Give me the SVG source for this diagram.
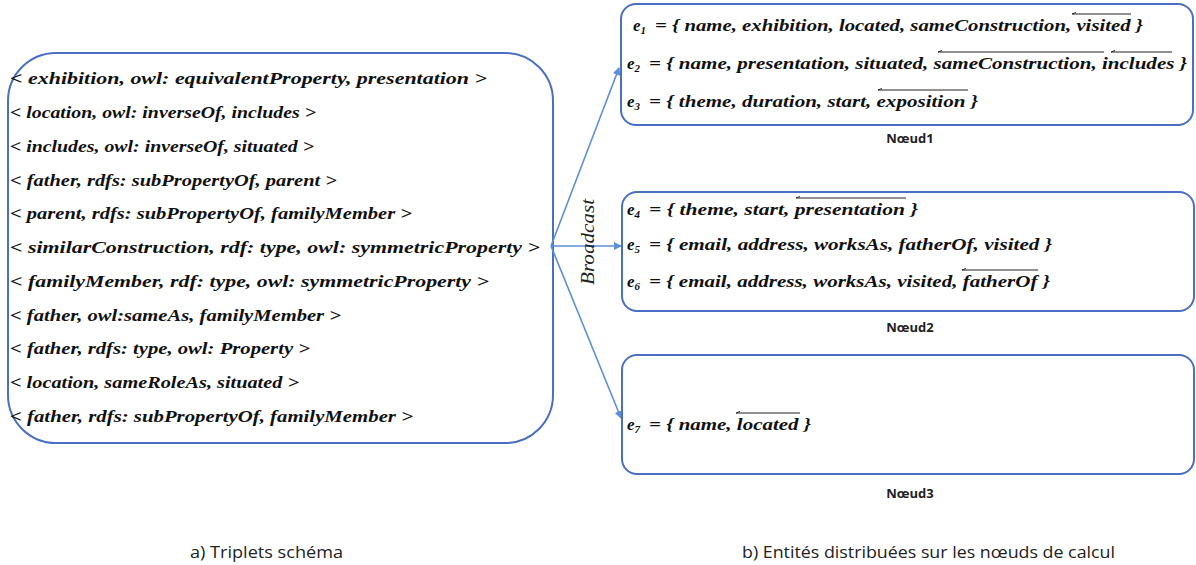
<svg xmlns="http://www.w3.org/2000/svg" width="1196" height="565" viewBox="0 0 1196 565">
<defs>
<style>
.box{fill:none;stroke:#4a6fc4;stroke-width:2}
.m{font-family:"Liberation Serif","DejaVu Serif",serif;font-style:italic;font-weight:bold;font-size:17px;fill:#111}
.sub{font-size:11px}
.lbl{font-family:"Open Sans","Liberation Sans",sans-serif;font-weight:bold;font-size:13px;fill:#222}
.cap{font-family:"Open Sans","Liberation Sans",sans-serif;font-size:16px;fill:#222}
.bc{font-family:"Liberation Serif",serif;font-style:italic;font-size:19px;fill:#222}
.ov{stroke:#222;stroke-width:1;fill:none}
.conn{stroke:#5b8fd6;stroke-width:1.6;fill:none}
</style>
<marker id="ah" markerWidth="8" markerHeight="8" refX="7" refY="4" orient="auto" markerUnits="userSpaceOnUse">
<path d="M0,0 L8,4 L0,8 Z" fill="#5b8fd6"/>
</marker>
</defs>

<g id="triplets">
<rect class="box" x="8" y="53" width="545" height="390" rx="48" ry="48"/>
<text class="m" x="10" y="84" textLength="477" lengthAdjust="spacingAndGlyphs">&lt; exhibition, owl: equivalentProperty, presentation &gt;</text>
<text class="m" x="10" y="118" textLength="306" lengthAdjust="spacingAndGlyphs">&lt; location, owl: inverseOf, includes &gt;</text>
<text class="m" x="10" y="152" textLength="304" lengthAdjust="spacingAndGlyphs">&lt; includes, owl: inverseOf, situated &gt;</text>
<text class="m" x="10" y="186" textLength="327" lengthAdjust="spacingAndGlyphs">&lt; father, rdfs: subPropertyOf, parent &gt;</text>
<text class="m" x="10" y="219" textLength="402" lengthAdjust="spacingAndGlyphs">&lt; parent, rdfs: subPropertyOf, familyMember &gt;</text>
<text class="m" x="10" y="253" textLength="530" lengthAdjust="spacingAndGlyphs">&lt; similarConstruction, rdf: type, owl: symmetricProperty &gt;</text>
<text class="m" x="10" y="287" textLength="479" lengthAdjust="spacingAndGlyphs">&lt; familyMember, rdf: type, owl: symmetricProperty &gt;</text>
<text class="m" x="10" y="321" textLength="331" lengthAdjust="spacingAndGlyphs">&lt; father, owl:sameAs, familyMember &gt;</text>
<text class="m" x="10" y="354" textLength="300" lengthAdjust="spacingAndGlyphs">&lt; father, rdfs: type, owl: Property &gt;</text>
<text class="m" x="10" y="388" textLength="289" lengthAdjust="spacingAndGlyphs">&lt; location, sameRoleAs, situated &gt;</text>
<text class="m" x="10" y="422" textLength="403" lengthAdjust="spacingAndGlyphs">&lt; father, rdfs: subPropertyOf, familyMember &gt;</text>
</g>

<g id="connectors">
<line class="conn" x1="551" y1="246" x2="619" y2="68" marker-end="url(#ah)"/>
<line class="conn" x1="551" y1="246" x2="621" y2="246" marker-end="url(#ah)"/>
<line class="conn" x1="551" y1="246" x2="621" y2="418" marker-end="url(#ah)"/>
<text class="bc" transform="translate(594,242) rotate(-90)" text-anchor="middle" textLength="86" lengthAdjust="spacingAndGlyphs">Broadcast</text>
</g>

<g id="noeud1">
<rect class="box" x="621" y="4" width="572" height="121" rx="15" ry="15"/>
<text class="m" x="633" y="31">e<tspan class="sub" dy="3">1</tspan></text>
<text class="m" x="655" y="31" textLength="488" lengthAdjust="spacingAndGlyphs">= { name, exhibition, located, sameConstruction, visited }</text>
<path class="ov" d="M1072,14 H1131 M1072,14 l4,-1.5"/>
<text class="m" x="627" y="69">e<tspan class="sub" dy="3">2</tspan></text>
<text class="m" x="649" y="69" textLength="538" lengthAdjust="spacingAndGlyphs">= { name, presentation, situated, sameConstruction, includes }</text>
<path class="ov" d="M938,52 H1104 M938,52 l4,-1.5 M1111,52 H1172 M1111,52 l4,-1.5"/>
<text class="m" x="627" y="107">e<tspan class="sub" dy="3">3</tspan></text>
<text class="m" x="649" y="107" textLength="329" lengthAdjust="spacingAndGlyphs">= { theme, duration, start, exposition }</text>
<path class="ov" d="M878,90 H968 M878,90 l4,-1.5"/>
<text class="lbl" x="910" y="143" text-anchor="middle">Nœud1</text>
</g>

<g id="noeud2">
<rect class="box" x="622" y="192" width="572" height="119" rx="15" ry="15"/>
<text class="m" x="627" y="215">e<tspan class="sub" dy="3">4</tspan></text>
<text class="m" x="649" y="215" textLength="269" lengthAdjust="spacingAndGlyphs">= { theme, start, presentation }</text>
<path class="ov" d="M796,198 H906 M796,198 l4,-1.5"/>
<text class="m" x="627" y="250">e<tspan class="sub" dy="3">5</tspan></text>
<text class="m" x="649" y="250" textLength="403" lengthAdjust="spacingAndGlyphs">= { email, address, worksAs, fatherOf, visited }</text>
<text class="m" x="627" y="287">e<tspan class="sub" dy="3">6</tspan></text>
<text class="m" x="649" y="287" textLength="401" lengthAdjust="spacingAndGlyphs">= { email, address, worksAs, visited, fatherOf }</text>
<path class="ov" d="M962,270 H1038 M962,270 l4,-1.5"/>
<text class="lbl" x="910" y="332" text-anchor="middle">Nœud2</text>
</g>

<g id="noeud3">
<rect class="box" x="622" y="355" width="572" height="119" rx="15" ry="15"/>
<text class="m" x="627" y="430">e<tspan class="sub" dy="3">7</tspan></text>
<text class="m" x="649" y="430" textLength="162" lengthAdjust="spacingAndGlyphs">= { name, located }</text>
<path class="ov" d="M736,413 H800 M736,413 l4,-1.5"/>
<text class="lbl" x="910" y="498" text-anchor="middle">Nœud3</text>
</g>

<g id="captions">
<text class="cap" x="190" y="558" textLength="153" lengthAdjust="spacingAndGlyphs">a)  Triplets schéma</text>
<text class="cap" x="742" y="558" textLength="373" lengthAdjust="spacingAndGlyphs">b)  Entités distribuées sur les nœuds de calcul</text>
</g>
</svg>
